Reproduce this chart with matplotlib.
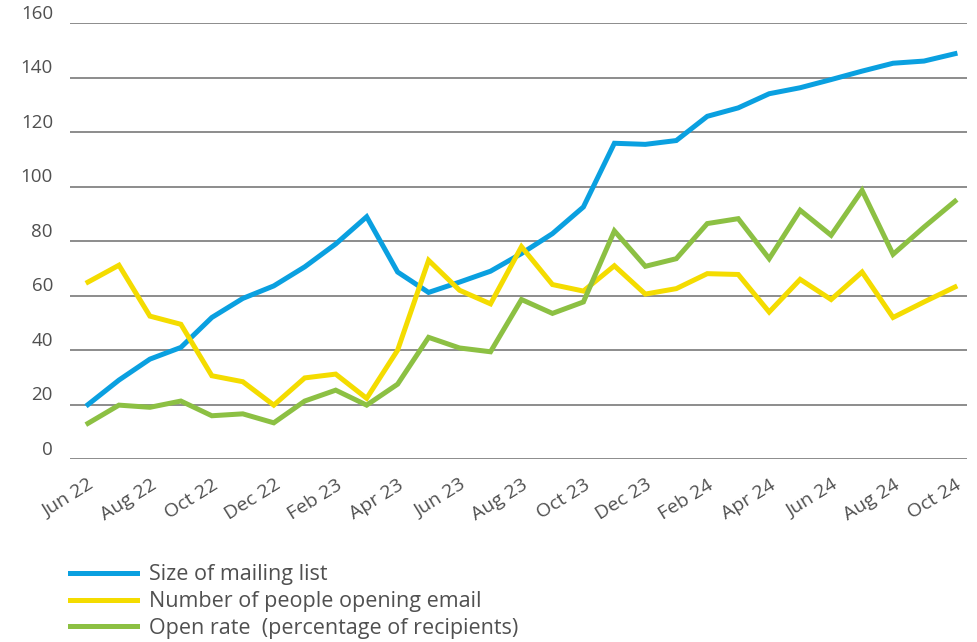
import matplotlib
matplotlib.use("Agg")
import matplotlib.pyplot as plt
import numpy as np

plt.rcParams['font.family'] = ['Open Sans', 'DejaVu Sans']

months = ["Jun 22", "Jul 22", "Aug 22", "Sep 22", "Oct 22", "Nov 22", "Dec 22",
          "Jan 23", "Feb 23", "Mar 23", "Apr 23", "May 23", "Jun 23", "Jul 23",
          "Aug 23", "Sep 23", "Oct 23", "Nov 23", "Dec 23", "Jan 24", "Feb 24",
          "Mar 24", "Apr 24", "May 24", "Jun 24", "Jul 24", "Aug 24", "Sep 24",
          "Oct 24"]

mailing_list = [20, 29, 36.7, 41, 52, 59, 63.6, 70.6, 79, 89, 68.7, 61.2, 65, 69,
                75.5, 82.8, 92.6, 116, 115.6, 117, 125.9, 129, 134.2, 136.4,
                139.4, 142.5, 145.4, 146.2, 148.9]
opening = [65, 71.2, 52.5, 49.5, 30.6, 28.4, 19.8, 29.8, 31.2, 22.3, 40, 73, 62,
           57, 78, 64.1, 61.7, 71, 60.6, 62.6, 68.1, 67.8, 54, 66, 58.6, 68.7,
           52, 57.7, 63.2]
open_rate = [13.1, 19.8, 19, 21.3, 15.9, 16.6, 13.3, 21.3, 25.3, 19.8, 27.5, 44.7,
             40.8, 39.4, 58.6, 53.5, 57.7, 83.8, 70.8, 73.6, 86.5, 88.3, 73.6,
             91.4, 82.2, 98.7, 75.2, 85.2, 94.7]

labels = ["Size of mailing list", "Number of people opening email",
          "Open rate  (percentage of recipients)"]
colors = ["#0AA0E0", "#F4DC00", "#8CC043"]

yticks = [0, 20, 40, 60, 80, 100, 120, 140, 160]

fig = plt.figure(figsize=(9.78, 6.42), dpi=100)
ax = fig.add_axes([0.0716, 0.285, 0.9172, 0.6784])

x = np.arange(len(months))
for series, lab, col in zip([mailing_list, opening, open_rate], labels, colors):
    ax.plot(x, series, color=col, lw=3.6, label=lab, solid_joinstyle='miter')

ax.set_xlim(-0.58, 28.39)
ax.set_ylim(0, 160)
for v in yticks:
    ax.axhline(v, color="#6e6e6e", lw=1.1, zorder=0)
    ax.text(-0.019, v + 1.65, str(v), transform=ax.get_yaxis_transform(),
            ha='right', va='baseline', fontsize=13.5, color="#505050")

ax.set_yticks([])
ax.set_xticks(x[::2])
ax.set_xticklabels(months[::2], rotation=32, ha='right', rotation_mode='anchor',
                   fontsize=14, color="#505050")
ax.tick_params(axis='x', length=0, pad=12)
for s in ax.spines.values():
    s.set_visible(False)

fig.legend(loc='upper left', bbox_to_anchor=(0.0716, 0.121), frameon=False,
           borderpad=0, borderaxespad=0, handlelength=3.1, handletextpad=0.55,
           labelspacing=0.27, fontsize=15.5, labelcolor="#505050")

fig.savefig("out.png", dpi=100)
